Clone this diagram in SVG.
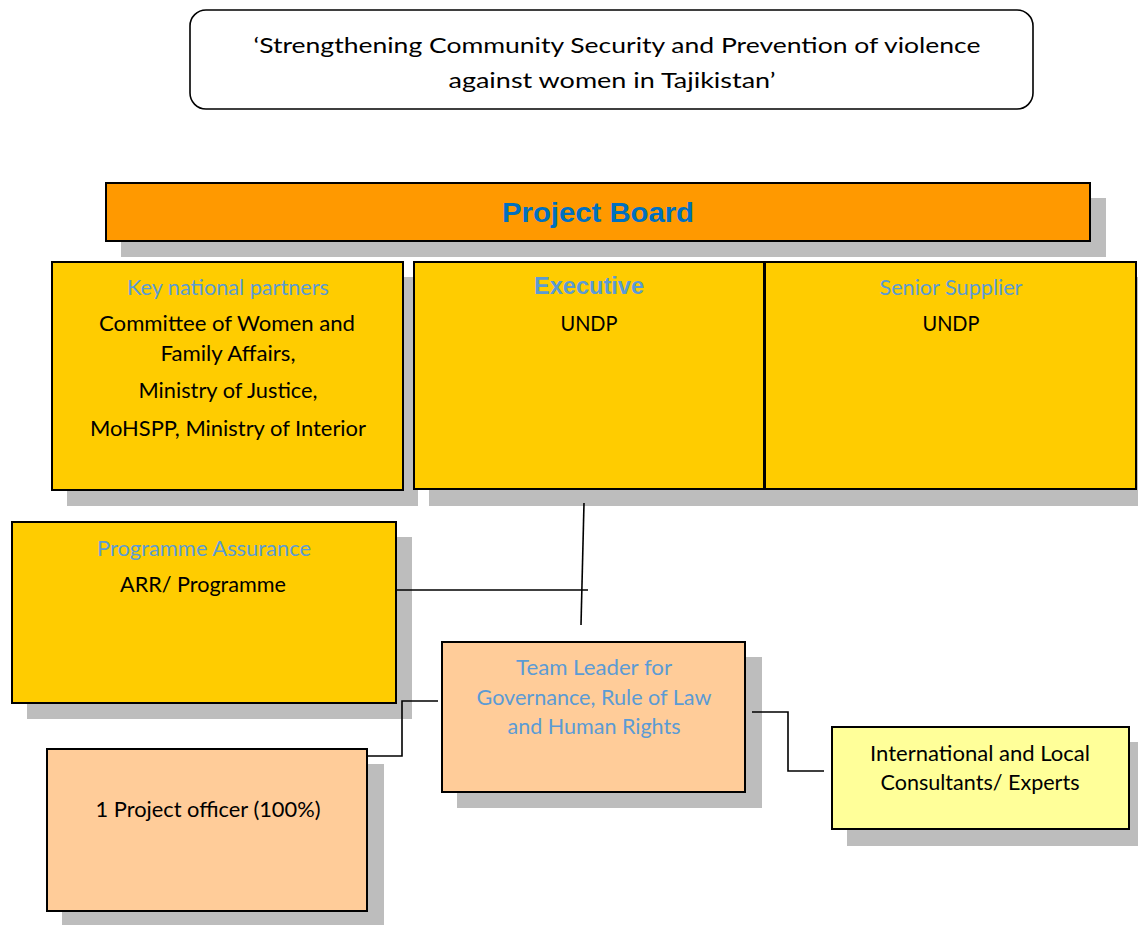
<svg xmlns="http://www.w3.org/2000/svg" width="1138" height="925" viewBox="0 0 1138 925">
  <style>
    .shadow { fill: #BDBDBD; }
    .box { stroke: #000; stroke-width: 2; }
    .gold { fill: #FFCC00; }
    .peach { fill: #FFCC99; }
    .lemon { fill: #FFFF99; }
    .txt { font-family: Lato, "Open Sans", "Liberation Sans", sans-serif; font-size: 21px; fill: #000; text-anchor: middle; }
    .head { font-family: Lato, "Open Sans", "Liberation Sans", sans-serif; font-size: 21px; fill: #5B9BD5; text-anchor: middle; }
    .bold { font-family: "Liberation Sans", Arial, sans-serif; font-weight: bold; text-anchor: middle; }
    .conn { fill: none; stroke: #000; stroke-width: 1.6; }
  </style>

  <!-- Title -->
  <g id="title">
    <rect x="190" y="10" width="843" height="99" rx="16" ry="16" fill="#fff" stroke="#000" stroke-width="1.6"/>
    <text class="txt" x="617" y="53" font-size="27" textLength="727" lengthAdjust="spacingAndGlyphs">‘Strengthening Community Security and Prevention of violence</text>
    <text class="txt" x="612" y="88" font-size="27" textLength="327" lengthAdjust="spacingAndGlyphs">against women in Tajikistan’</text>
  </g>

  <!-- Project Board -->
  <g id="project-board">
    <rect class="shadow" x="121" y="198" width="985" height="59"/>
    <rect class="box" x="106" y="183" width="984" height="58" fill="#FF9900"/>
    <text class="bold" x="598" y="222" font-size="27" fill="#0070C0" textLength="192" lengthAdjust="spacingAndGlyphs">Project Board</text>
  </g>

  <!-- Key national partners -->
  <g id="key-partners">
    <rect class="shadow" x="67" y="277" width="351" height="229"/>
    <rect class="box gold" x="52" y="262" width="351" height="228"/>
    <text class="head" x="228" y="295" textLength="202" lengthAdjust="spacingAndGlyphs">Key national partners</text>
    <text class="txt" x="227" y="331" textLength="256" lengthAdjust="spacingAndGlyphs">Committee of Women and</text>
    <text class="txt" x="228" y="361" textLength="135" lengthAdjust="spacingAndGlyphs">Family Affairs,</text>
    <text class="txt" x="228" y="398" textLength="179" lengthAdjust="spacingAndGlyphs">Ministry of Justice,</text>
    <text class="txt" x="228" y="436" textLength="276" lengthAdjust="spacingAndGlyphs">MoHSPP, Ministry of Interior</text>
  </g>

  <!-- Executive -->
  <g id="executive">
    <rect class="shadow" x="429" y="277" width="351" height="229"/>
    <rect class="box gold" x="414" y="262" width="350" height="227"/>
    <text class="bold" x="589" y="294" font-size="23" fill="#5B9BD5" textLength="110" lengthAdjust="spacingAndGlyphs">Executive</text>
    <text class="txt" x="589" y="331" textLength="57" lengthAdjust="spacingAndGlyphs">UNDP</text>
  </g>

  <!-- Senior Supplier -->
  <g id="senior-supplier">
    <rect class="shadow" x="780" y="277" width="372" height="229"/>
    <rect class="box gold" x="765" y="262" width="371" height="227"/>
    <text class="head" x="951" y="295" textLength="143" lengthAdjust="spacingAndGlyphs">Senior Supplier</text>
    <text class="txt" x="951" y="331" textLength="57" lengthAdjust="spacingAndGlyphs">UNDP</text>
  </g>

  <!-- Programme Assurance -->
  <g id="programme-assurance">
    <rect class="shadow" x="27" y="537" width="385" height="182"/>
    <rect class="box gold" x="12" y="522" width="384" height="181"/>
    <text class="head" x="204" y="556" textLength="214" lengthAdjust="spacingAndGlyphs">Programme Assurance</text>
    <text class="txt" x="203" y="592" textLength="166" lengthAdjust="spacingAndGlyphs">ARR/ Programme</text>
  </g>

  <!-- Team Leader -->
  <g id="team-leader">
    <rect class="shadow" x="457" y="657" width="305" height="151"/>
    <rect class="box peach" x="442" y="642" width="303" height="150"/>
    <text class="head" x="594" y="675" textLength="156" lengthAdjust="spacingAndGlyphs">Team Leader for</text>
    <text class="head" x="594" y="705" textLength="235" lengthAdjust="spacingAndGlyphs">Governance, Rule of Law</text>
    <text class="head" x="594" y="734" textLength="173" lengthAdjust="spacingAndGlyphs">and Human Rights</text>
  </g>

  <!-- Project officer -->
  <g id="project-officer">
    <rect class="shadow" x="62" y="764" width="322" height="163"/>
    <rect class="box peach" x="47" y="749" width="320" height="162"/>
    <text class="txt" x="208" y="817" textLength="225" lengthAdjust="spacingAndGlyphs">1 Project officer (100%)</text>
  </g>

  <!-- Consultants -->
  <g id="consultants">
    <rect class="shadow" x="847" y="742" width="298" height="104"/>
    <rect class="box lemon" x="832" y="727" width="297" height="102"/>
    <text class="txt" x="980" y="761" textLength="220" lengthAdjust="spacingAndGlyphs">International and Local</text>
    <text class="txt" x="980" y="790" textLength="199" lengthAdjust="spacingAndGlyphs">Consultants/ Experts</text>
  </g>

  <!-- Connectors -->
  <g id="connectors">
    <path class="conn" d="M584 503 L581 625"/>
    <path class="conn" d="M396 590 L588 590"/>
    <path class="conn" d="M438 701 L402 701 L402 756 L367 756"/>
    <path class="conn" d="M752 712 L788 712 L788 771 L824 771"/>
  </g>
</svg>
